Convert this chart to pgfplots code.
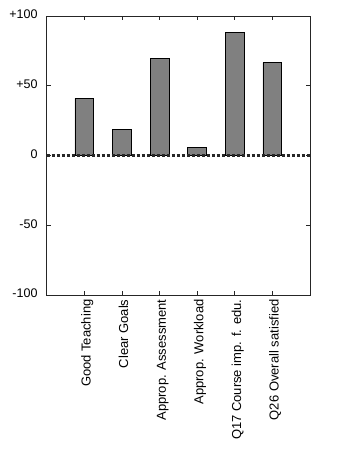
\documentclass[border=0pt]{standalone}
\usepackage{pgfplots}
\pgfplotsset{compat=1.18}
\usepackage{fontspec}
\setmainfont{Liberation Sans}
\begin{document}
\begin{tikzpicture}[x=1pt,y=1pt]
\useasboundingbox (-46.7,-177) rectangle (307.3,295);
\begin{axis}[
  at={(0,0)}, anchor=south west,
  scale only axis, width=263.3pt, height=279pt,
  xmin=0, xmax=7, ymin=-100, ymax=100,
  xtick={1,2,3,4,5,6},
  xticklabels={Good Teaching, Clear Goals, Approp. Assessment, Approp. Workload, Q17 Course imp. f. edu., Q26 Overall satisfied},
  xticklabel style={xshift=3.3pt, yshift=-4.3pt, rotate=90, anchor=east, font=\fontsize{13}{15}\selectfont, inner sep=0pt},
  ytick={-100,-50,0,50,100},
  yticklabels={-100,-50,0,+50,+100},
  yticklabel style={font=\fontsize{12.5}{14}\selectfont, inner sep=0pt, xshift=-9pt},
  xtick pos=both, ytick pos=both,
  tick align=inside, major tick length=4pt,
  axis line style={line width=0.9pt, black!85},
  tick style={line width=0.8pt, black!85},
  /pgf/number format/assume math mode=true,
  typeset ticklabels with strut=false,
  clip=false,
]
\addplot[ybar, bar width=0.5, fill={rgb,255:red,128;green,128;blue,128}, draw=black, line width=0.8pt]
  coordinates {(1,41) (2,18.5) (3,69.5) (4,5.5) (5,88) (6,66.5)};
\addplot[line width=3pt, draw={rgb,255:red,40;green,40;blue,40}, dash pattern=on 3pt off 2pt]
  coordinates {(0,0) (7,0)};
\end{axis}
\end{tikzpicture}
\end{document}
